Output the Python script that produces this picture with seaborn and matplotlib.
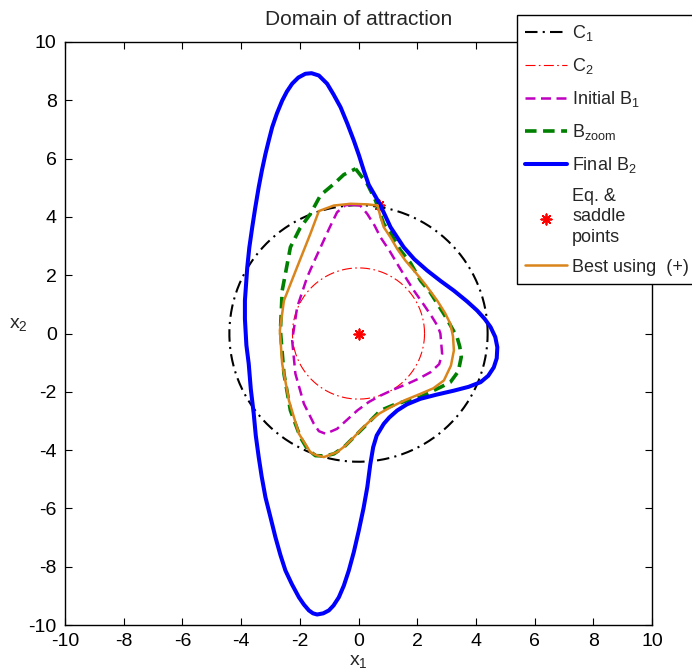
import numpy as np
import pandas as pd
import seaborn as sns
import matplotlib
matplotlib.use("Agg")
import matplotlib.pyplot as plt

# ---- data -------------------------------------------------------------
# circle radii (centred at the origin)
c1_radius = 4.4
c2_radius = 2.25

# initial estimate B1 (closed boundary)
b1_x = [-0.21, 0.06, 0.30, 0.55, 0.75, 1.05, 1.32, 1.60, 1.89, 2.25, 2.51, 2.70, 2.79,
        2.85, 2.75, 2.45, 2.05, 1.66, 1.20, 0.75, 0.35, -0.04, -0.40, -0.73, -1.12,
        -1.35, -1.52, -1.86, -2.15, -2.26, -2.09, -1.75, -1.50, -1.29, -1.00, -0.73, -0.45]
b1_y = [4.42, 4.39, 4.10, 3.70, 3.30, 2.85, 2.39, 1.93, 1.47, 0.95, 0.56, 0.25, 0.00,
        -0.70, -1.05, -1.33, -1.55, -1.73, -1.92, -2.13, -2.35, -2.64, -2.97, -3.27, -3.44,
        -3.35, -3.10, -2.41, -1.38, -0.24, 0.90, 1.93, 2.50, 2.96, 3.60, 4.16, 4.40]

# zoomed estimate B_zoom
bz_x = [-0.10, 0.30, 0.58, 0.86, 1.09, 1.43, 1.77, 2.11, 2.45, 2.91, 3.15, 3.36, 3.45,
        3.50, 3.40, 3.13, 2.80, 2.57, 2.11, 1.66, 1.20, 0.75, 0.30, -0.16, -0.50, -0.84,
        -1.15, -1.47, -1.75, -1.98, -2.32, -2.54, -2.66, -2.60, -2.32, -2.00, -1.64,
        -1.29, -0.84, -0.50]
bz_y = [5.65, 5.13, 4.56, 3.76, 3.45, 2.85, 2.42, 1.82, 1.40, 0.67, 0.25, -0.13, -0.45,
        -0.81, -1.30, -1.67, -1.84, -1.95, -2.18, -2.30, -2.45, -2.64, -3.10, -3.56, -3.90,
        -4.13, -4.20, -4.19, -3.95, -3.56, -2.64, -1.38, 0.10, 1.47, 2.96, 3.60, 4.10,
        4.75, 5.13, 5.45]

# final estimate B2
b2_x = [0.75, 1.09, 1.54, 1.90, 2.34, 2.80, 3.25, 3.70, 4.04, 4.30, 4.50, 4.66, 4.73,
        4.71, 4.61, 4.42, 4.16, 3.75, 3.25, 2.65, 2.11, 1.65, 1.32, 1.05, 0.86, 0.62,
        0.50, 0.40, 0.30, 0.17, 0.01, -0.16, -0.33, -0.50, -0.67, -0.85, -1.01, -1.20,
        -1.41, -1.55, -1.69, -1.86, -2.03, -2.27, -2.49, -2.66, -2.83, -3.00, -3.17, -3.30,
        -3.40, -3.50, -3.57, -3.67, -3.74, -3.82, -3.87, -3.87, -3.83, -3.79, -3.72,
        -3.62, -3.52, -3.40, -3.29, -3.17, -3.05, -2.94, -2.78, -2.60, -2.44, -2.26,
        -2.05, -1.81, -1.60, -1.35, -1.07, -0.85, -0.61, -0.38, -0.16, 0.02, 0.18, 0.35,
        0.55]
b2_y = [4.39, 3.65, 2.96, 2.55, 2.16, 1.80, 1.47, 1.10, 0.79, 0.50, 0.22, -0.12, -0.47,
        -0.85, -1.16, -1.45, -1.67, -1.83, -1.96, -2.10, -2.24, -2.43, -2.64, -2.88, -3.10,
        -3.50, -3.90, -4.50, -5.27, -6.00, -6.76, -7.50, -8.13, -8.65, -9.05, -9.33, -9.50,
        -9.60, -9.64, -9.60, -9.50, -9.30, -9.05, -8.60, -8.13, -7.60, -6.99, -6.30, -5.62,
        -4.90, -4.24, -3.50, -2.75, -1.90, -1.04, -0.40, 0.50, 1.13, 1.70, 2.27, 2.95,
        3.65, 4.30, 5.02, 5.60, 6.16, 6.65, 7.08, 7.55, 7.99, 8.30, 8.57,
        8.78, 8.91, 8.93, 8.85, 8.57, 8.20, 7.76, 7.20, 6.62, 6.10, 5.59, 5.10,
        4.75]

# best estimate using (+)
best_x = [0.65, 0.75, 0.86, 1.09, 1.32, 1.60, 1.89, 2.30, 2.68, 2.95, 3.13, 3.22, 3.25,
          3.15, 2.91, 2.55, 2.11, 1.60, 1.09, 0.70, 0.41, 0.10, -0.16, -0.45, -0.73, -1.18,
          -1.45, -1.64, -2.03, -2.37, -2.60, -2.68, -2.54, -2.09, -1.64, -1.35, -0.84,
          -0.27, 0.30]
best_y = [4.39, 4.00, 3.65, 3.30, 2.90, 2.50, 2.16, 1.65, 1.13, 0.70, 0.33, -0.10, -0.58,
          -1.10, -1.61, -1.88, -2.07, -2.28, -2.53, -2.75, -2.98, -3.28, -3.56, -3.85, -4.07,
          -4.24, -4.17, -4.07, -3.44, -2.30, -1.04, 0.10, 1.13, 2.28, 3.42, 4.20, 4.39,
          4.45, 4.43]

# equilibrium and saddle points
pts_x = [0.0, 0.7]
pts_y = [0.0, 4.4]


def closed(xs, ys):
    xs = list(xs) + [xs[0]]
    ys = list(ys) + [ys[0]]
    return pd.DataFrame({"x": xs, "y": ys})


def circle(r, n=400):
    t = np.linspace(0, 2 * np.pi, n)
    return pd.DataFrame({"x": r * np.cos(t), "y": r * np.sin(t)})


# ---- style ------------------------------------------------------------
sns.set_style("ticks")
plt.rcParams["font.family"] = ["Liberation Sans", "DejaVu Sans"]
plt.rcParams["mathtext.fontset"] = "custom"
plt.rcParams["mathtext.rm"] = "Liberation Sans"
plt.rcParams["mathtext.it"] = "Liberation Sans"
plt.rcParams["axes.unicode_minus"] = False
plt.rcParams["xtick.direction"] = "in"
plt.rcParams["ytick.direction"] = "in"

fig = plt.figure(figsize=(6.92, 6.69), dpi=100)
ax = fig.add_axes([65 / 692, 1 - 625 / 669, 587 / 692, 583 / 669])

common = dict(ax=ax, x="x", y="y", sort=False, estimator=None)
sns.lineplot(data=circle(c1_radius), color="black", lw=1.5,
             linestyle=(0, (6, 2.5, 1, 2.5)), label="C$_1$", **common)
sns.lineplot(data=circle(c2_radius), color="red", lw=0.8,
             linestyle=(0, (9, 3, 1.5, 3)), label="C$_2$", **common)
sns.lineplot(data=closed(b1_x, b1_y), color="#C000C0", lw=1.8,
             linestyle=(0, (4, 2.2)), label="Initial B$_1$", **common)
sns.lineplot(data=closed(bz_x, bz_y), color="#008000", lw=2.6,
             linestyle=(0, (3.2, 1.8)), label="B$_{\\mathrm{zoom}}$", **common)
sns.lineplot(data=closed(b2_x, b2_y), color="#0000FF", lw=2.9,
             label="Final B$_2$", **common)
sns.scatterplot(x=pts_x, y=pts_y, ax=ax, marker=(8, 2, 0), s=55, color="red",
                linewidth=1.3, edgecolor="red", label="Eq. &\nsaddle\npoints")
sns.lineplot(data=closed(best_x, best_y), color="#D9851C", lw=1.8,
             label="Best using  (+)", **common)

ax.set_xlim(-10, 10)
ax.set_ylim(-10, 10)
ax.set_xticks(np.arange(-10, 11, 2))
ax.set_yticks(np.arange(-10, 11, 2))
ax.tick_params(top=True, right=True, labelsize=14, length=5, width=0.8,
               colors="black", pad=6)
for s in ax.spines.values():
    s.set_visible(True)
    s.set_linewidth(1.0)
    s.set_color("black")

ax.set_title("Domain of attraction", fontsize=15, pad=12)
ax.set_xlabel("x$_1$", fontsize=14, labelpad=2)
ax.set_ylabel("x$_2$", fontsize=14, rotation=0, va="center")
ax.yaxis.set_label_coords(-0.08, 0.515)

leg = ax.legend(loc="upper left", bbox_to_anchor=(517 / 692, 1 - 15 / 669),
                bbox_transform=fig.transFigure, fontsize=13, frameon=True,
                fancybox=False, framealpha=1, edgecolor="black",
                handlelength=2.3, handletextpad=0.3, borderaxespad=0,
                labelspacing=0.72, borderpad=0.45)
leg.get_frame().set_linewidth(1.0)
for t in leg.get_texts():
    t.set_linespacing(1.25)

fig.savefig("out.png", dpi=100)
